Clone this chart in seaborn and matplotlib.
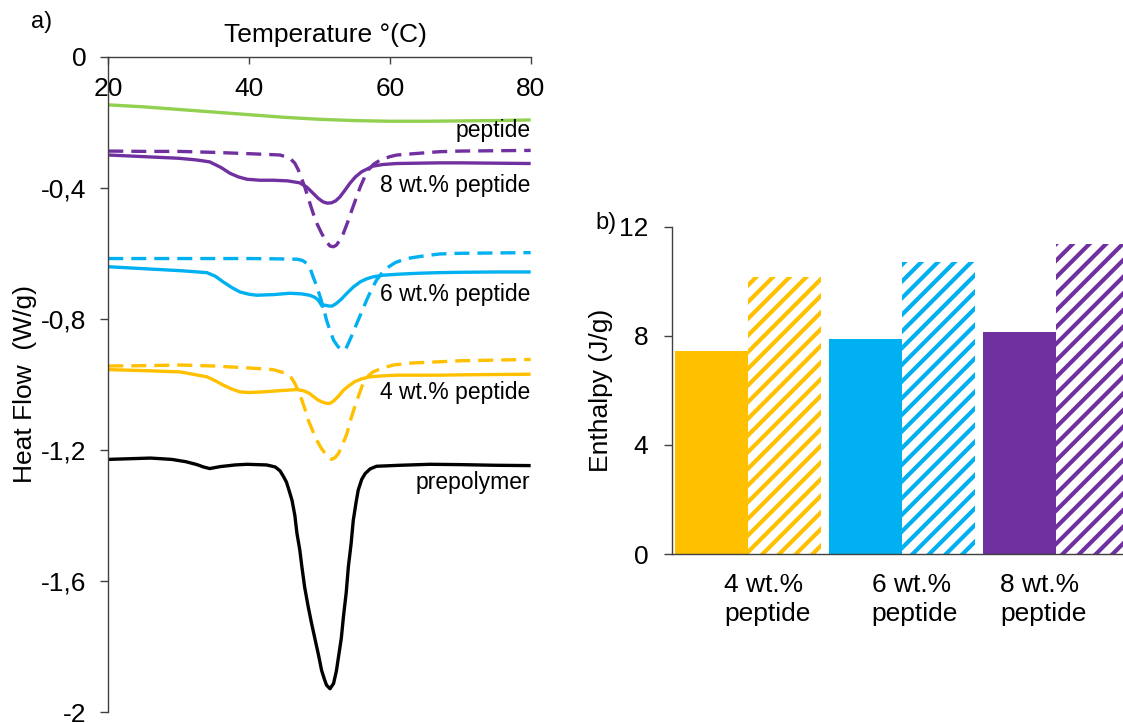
import numpy as np
import pandas as pd
import matplotlib
matplotlib.use("Agg")
import matplotlib.pyplot as plt
import seaborn as sns

# ---------------- data: panel a) DSC curves ----------------
T_pep = [20, 25, 30, 35, 40, 45, 50, 55, 60, 65, 70, 75, 80]
HF_pep = [-0.147, -0.153, -0.161, -0.169, -0.177, -0.185, -0.191, -0.195, -0.197, -0.197, -0.196, -0.195, -0.193]

T_8s = [20, 25, 30, 32.5, 34.4, 36, 37.3, 38.5, 39.7, 41.5, 43.4, 45.5, 47.2, 48.2, 49.1, 49.8, 50.5, 51.1, 51.7,
        52.3, 52.9, 53.6, 54.3, 55.1, 56.0, 57.6, 59, 61, 64, 67, 70, 75, 80]
HF_8s = [-0.300, -0.305, -0.310, -0.315, -0.321, -0.338, -0.356, -0.367, -0.374, -0.377, -0.377, -0.379, -0.385,
         -0.398, -0.417, -0.432, -0.443, -0.447, -0.446, -0.440, -0.428, -0.408, -0.387, -0.367, -0.351, -0.334,
         -0.329, -0.326, -0.325, -0.324, -0.324, -0.325, -0.326]

T_8d = [20, 25, 30, 35, 40, 44.4, 45.8, 46.5, 47.0, 47.9, 48.5, 49.1, 49.7, 50.3, 50.9, 51.5, 52.0, 52.4, 52.9,
        53.4, 54.0, 54.6, 55.2, 55.8, 56.4, 56.9, 57.7, 58.6, 60, 61, 64, 67, 70, 75, 80]
HF_8d = [-0.288, -0.289, -0.289, -0.292, -0.296, -0.300, -0.310, -0.325, -0.346, -0.397, -0.438, -0.478, -0.512,
         -0.539, -0.562, -0.578, -0.580, -0.575, -0.560, -0.539, -0.505, -0.468, -0.432, -0.397, -0.368, -0.346,
         -0.328, -0.316, -0.305, -0.300, -0.295, -0.290, -0.288, -0.287, -0.286]

T_6s = [20, 25, 30.2, 34.0, 35.2, 36.3, 37.5, 38.7, 40, 41.1, 43.5, 45.8, 47.5, 48.6, 49.3, 49.8, 50.1, 50.4, 50.8,
        51.3, 51.8, 52.4, 53.1, 53.9, 54.8, 55.8, 56.7, 57.6, 59, 61, 64, 67.1, 70, 75, 80]
HF_6s = [-0.641, -0.647, -0.653, -0.659, -0.670, -0.687, -0.704, -0.718, -0.725, -0.728, -0.726, -0.722, -0.724,
         -0.728, -0.734, -0.742, -0.752, -0.762, -0.758, -0.761, -0.761, -0.753, -0.740, -0.722, -0.703, -0.687,
         -0.678, -0.672, -0.667, -0.664, -0.661, -0.659, -0.658, -0.657, -0.657]

T_6d = [20, 25, 30.2, 35, 40, 44, 46.8, 47.6, 48.2, 48.7, 49.1, 49.6, 50.1, 50.6, 51.0, 51.5, 52.0, 52.6, 53.2,
        53.7, 54.1, 54.7, 55.3, 56.0, 56.7, 57.4, 58.1, 58.8, 59.5, 60.8, 62.4, 64.5, 67.1, 70, 75, 80]
HF_6d = [-0.616, -0.616, -0.616, -0.616, -0.616, -0.617, -0.618, -0.622, -0.631, -0.648, -0.672, -0.700, -0.733,
         -0.769, -0.804, -0.836, -0.865, -0.884, -0.896, -0.893, -0.875, -0.846, -0.814, -0.779, -0.743, -0.710,
         -0.682, -0.662, -0.646, -0.628, -0.616, -0.609, -0.602, -0.600, -0.599, -0.598]

T_4s = [20, 25, 30.2, 34.0, 35.2, 36.3, 37.5, 38.7, 40, 42, 44.5, 46.8, 47.8, 48.6, 49.2, 49.8, 50.4, 51.0, 51.5,
        52.0, 52.7, 53.4, 54.2, 55.0, 56.0, 57.2, 59, 61, 64, 67.1, 70, 75, 80]
HF_4s = [-0.955, -0.958, -0.962, -0.977, -0.989, -1.002, -1.014, -1.023, -1.025, -1.023, -1.019, -1.016, -1.020,
         -1.028, -1.038, -1.048, -1.054, -1.058, -1.058, -1.051, -1.036, -1.018, -1.004, -0.992, -0.983, -0.977,
         -0.974, -0.972, -0.972, -0.972, -0.971, -0.970, -0.969]

T_4d = [20, 25, 30.2, 35, 40, 43.4, 45.3, 46.0, 46.5, 47.0, 47.5, 48.0, 48.4, 49.0, 49.6, 50.2, 50.8, 51.3, 51.7,
        52.2, 52.7, 53.3, 53.9, 54.4, 55.0, 55.6, 56.2, 56.9, 57.6, 59, 60.5, 63, 67.1, 70, 75, 80]
HF_4d = [-0.944, -0.943, -0.941, -0.944, -0.950, -0.955, -0.967, -0.980, -0.997, -1.020, -1.048, -1.080, -1.109,
         -1.140, -1.170, -1.193, -1.211, -1.224, -1.229, -1.224, -1.211, -1.183, -1.150, -1.110, -1.069, -1.032,
         -0.997, -0.975, -0.962, -0.950, -0.941, -0.935, -0.931, -0.928, -0.926, -0.924]

T_pre = [20, 23, 26, 29, 31, 32.6, 33.5, 34.4, 35.9, 38, 39.7, 42.5, 43.7, 44.4, 44.9, 45.3, 45.7, 46.1, 46.5,
         46.8, 47.2, 47.5, 47.9, 48.4, 48.9, 49.4, 49.9, 50.3, 50.7, 51.0, 51.5, 52.0, 52.4, 52.7, 53.1, 53.4,
         53.8, 54.1, 54.5, 54.8, 55.2, 55.5, 56.0, 56.5, 57.2, 58.1, 61.4, 65.7, 70, 75, 80]
HF_pre = [-1.229, -1.227, -1.225, -1.229, -1.236, -1.245, -1.252, -1.257, -1.251, -1.246, -1.244, -1.246, -1.252,
          -1.264, -1.282, -1.298, -1.325, -1.354, -1.400, -1.455, -1.505, -1.557, -1.620, -1.679, -1.732, -1.781,
          -1.830, -1.873, -1.900, -1.918, -1.929, -1.913, -1.875, -1.832, -1.775, -1.710, -1.635, -1.557, -1.485,
          -1.415, -1.360, -1.323, -1.290, -1.272, -1.258, -1.250, -1.247, -1.244, -1.245, -1.247, -1.248]

curve_labels = ["peptide", "8 wt.% peptide", "6 wt.% peptide", "4 wt.% peptide", "prepolymer"]
label_y = [-0.226, -0.393, -0.727, -1.026, -1.300]

x_ticks = [20, 40, 60, 80]
y_ticks = [0, -0.4, -0.8, -1.2, -1.6, -2]
y_ticklabels = ["0", "-0,4", "-0,8", "-1,2", "-1,6", "-2"]

# ---------------- data: panel b) enthalpy bars ----------------
bar_samples = ["4 wt.%\npeptide", "6 wt.%\npeptide", "8 wt.%\npeptide"]
enthalpy_solid = [7.45, 7.87, 8.15]
enthalpy_hatched = [10.17, 10.70, 11.36]
enthalpy_ticks = [0, 4, 8, 12]

# ---------------- style ----------------
sns.set_style("white")
plt.rcParams["font.family"] = ["Liberation Sans", "DejaVu Sans"]
plt.rcParams["hatch.linewidth"] = 3.0
plt.rcParams["text.color"] = "black"
plt.rcParams["axes.labelcolor"] = "black"

colors = {"peptide": "#92D050", "8 wt.% peptide": "#7030A0", "6 wt.% peptide": "#00B0F0",
          "4 wt.% peptide": "#FFC000", "prepolymer": "#000000"}
bar_colors = ["#FFC000", "#00B0F0", "#7030A0"]
axis_col = "#404040"

frames = []
for name, run, T, HF in [("peptide", "solid", T_pep, HF_pep),
                         ("8 wt.% peptide", "dashed", T_8d, HF_8d),
                         ("8 wt.% peptide", "solid", T_8s, HF_8s),
                         ("6 wt.% peptide", "dashed", T_6d, HF_6d),
                         ("6 wt.% peptide", "solid", T_6s, HF_6s),
                         ("4 wt.% peptide", "dashed", T_4d, HF_4d),
                         ("4 wt.% peptide", "solid", T_4s, HF_4s),
                         ("prepolymer", "solid", T_pre, HF_pre)]:
    frames.append(pd.DataFrame({"T": T, "HF": HF, "sample": name, "run": run}))
df = pd.concat(frames, ignore_index=True)

fig = plt.figure(figsize=(11.23, 7.23), dpi=100)
ax1 = fig.add_axes([0.09644, 0.01521, 0.3761, 0.90637])
ax2 = fig.add_axes([0.598, 0.2337, 0.4106, 0.4527])

# ---------------- panel a ----------------
sns.lineplot(data=df, x="T", y="HF", hue="sample", style="run", palette=colors,
             dashes={"solid": "", "dashed": (4.5, 2.4)}, estimator=None, sort=False,
             linewidth=2.4, legend=False, ax=ax1)
for ln in ax1.get_lines():
    ln.set_solid_joinstyle("round")
    ln.set_dash_joinstyle("round")
    ln.set_solid_capstyle("butt")

ax1.set_xlim(20, 80)
ax1.set_ylim(-2, 0)
ax1.spines["bottom"].set_position(("axes", 1.0))
ax1.spines["top"].set_visible(False)
ax1.spines["right"].set_visible(False)
for s in ("bottom", "left"):
    ax1.spines[s].set_color(axis_col)
    ax1.spines[s].set_linewidth(1.0)
ax1.set_xticks(x_ticks)
ax1.set_yticks(y_ticks, labels=y_ticklabels)
ax1.tick_params(axis="x", direction="out", length=4.8, width=1.0, color=axis_col, labelcolor="black",
                labelsize=19, pad=10, bottom=True, top=False)
ax1.tick_params(axis="y", direction="out", length=5.8, width=1.0, color=axis_col, labelcolor="black",
                labelsize=19, pad=10, left=True)
ax1.xaxis.set_label_position("top")
ax1.set_xlabel("Temperature °(C)", fontsize=19)
ax1.xaxis.set_label_coords(0.513, 1.022)
ax1.set_ylabel("Heat Flow  (W/g)", fontsize=19)
ax1.yaxis.set_label_coords(-0.17, 0.5)
for txt, yv in zip(curve_labels, label_y):
    ax1.text(80, yv, txt, ha="right", va="center", fontsize=16.5)

# ---------------- panel b ----------------
bdf = pd.DataFrame({"sample": bar_samples * 2,
                    "enthalpy": enthalpy_solid + enthalpy_hatched,
                    "kind": ["solid"] * 3 + ["hatched"] * 3})
sns.barplot(data=bdf, x="sample", y="enthalpy", hue="kind", hue_order=["solid", "hatched"],
            width=0.95, gap=0, errorbar=None, legend=False, saturation=1, ax=ax2)
for bar, c in zip(ax2.containers[0], bar_colors):
    bar.set_facecolor(c)
    bar.set_edgecolor(c)
    bar.set_linewidth(0)
for bar, c in zip(ax2.containers[1], bar_colors):
    bar.set_facecolor("white")
    bar.set_edgecolor(c)
    bar.set_hatch("//")
    bar.set_linewidth(0)

ax2.set_xlim(-0.5, 2.5)
ax2.set_ylim(0, 12)
ax2.set_yticks(enthalpy_ticks)
label_offsets = [-0.158, -0.199, -0.362]
ax2.set_xticks(np.arange(3) + np.array(label_offsets), labels=bar_samples, ha="left")
ax2.tick_params(axis="x", length=0, labelsize=19, pad=14, labelcolor="black")
ax2.tick_params(axis="y", direction="out", length=5.8, width=1.0, color=axis_col, labelcolor="black",
                labelsize=19, pad=11, left=True)
for lab in ax2.get_xticklabels():
    lab.set_linespacing(1.25)
ax2.spines["top"].set_visible(False)
ax2.spines["right"].set_visible(False)
for s in ("bottom", "left"):
    ax2.spines[s].set_color(axis_col)
    ax2.spines[s].set_linewidth(1.0)
ax2.set_xlabel("")
ax2.set_ylabel("Enthalpy (J/g)", fontsize=19)
ax2.yaxis.set_label_coords(-0.127, 0.5)

fig.text(42 / 1123, 1 - 22 / 723, "a)", ha="center", va="center", fontsize=17)
fig.text(606 / 1123, 1 - 223 / 723, "b)", ha="center", va="center", fontsize=17)

fig.savefig("out.png", dpi=100)
